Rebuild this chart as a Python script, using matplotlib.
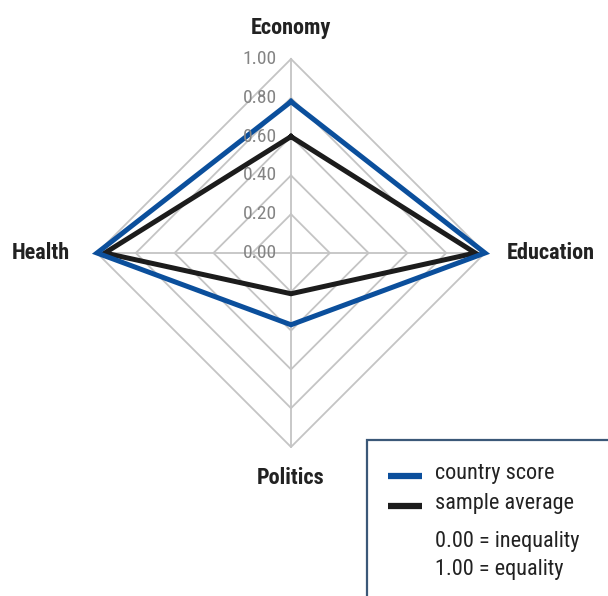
import numpy as np
import matplotlib
matplotlib.use("Agg")
import matplotlib.pyplot as plt
from matplotlib.transforms import offset_copy
from matplotlib.patches import Rectangle
from matplotlib.lines import Line2D

categories = ["Economy", "Education", "Politics", "Health"]
country_score = [0.78, 1.00, 0.37, 1.00]
sample_average = [0.60, 0.95, 0.21, 0.96]
tick_values = [0.0, 0.2, 0.4, 0.6, 0.8, 1.0]
tick_labels = ["0.00", "0.20", "0.40", "0.60", "0.80", "1.00"]
legend_labels = ["country score", "sample average"]
note_lines = ["0.00 = inequality", "1.00 = equality"]

narrow = ["Roboto Condensed", "Archivo Narrow", "Liberation Sans Narrow", "Liberation Sans", "DejaVu Sans"]
plt.rcParams["font.family"] = narrow

fig = plt.figure(figsize=(6.08, 5.96), dpi=100)
ax = fig.add_axes([97/608, 1-447/596, 388/608, 388/596], projection="polar")
ax.set_theta_zero_location("N")
ax.set_theta_direction(-1)
ax.set_ylim(0, 1)
ax.grid(False)
ax.spines["polar"].set_visible(False)
ax.set_xticks([])
ax.set_yticks([])
ax.patch.set_alpha(0)

n = len(categories)
angles = np.linspace(0, 2*np.pi, n, endpoint=False)
closed = np.concatenate([angles, angles[:1]])

grid_col = "#c4c4c4"
for r in tick_values[1:]:
    ax.plot(closed, [r]*(n+1), color=grid_col, lw=1.3, zorder=1, clip_on=False)
for a in angles:
    ax.plot([a, a], [0, 1], color=grid_col, lw=1.3, zorder=1, clip_on=False)

ax.plot(closed, sample_average + sample_average[:1], color="#1c1c1c", lw=3.6,
        zorder=3, clip_on=False, solid_joinstyle="miter")
ax.plot(closed, country_score + country_score[:1], color="#0b4f9c", lw=3.6,
        zorder=4, clip_on=False, solid_joinstyle="miter")

tt = offset_copy(ax.transData, fig=fig, x=-14, y=0, units="dots")
for v, lab in zip(tick_values, tick_labels):
    ax.text(0, v, lab, transform=tt, ha="right", va="center", fontsize=14,
            fontweight="normal", color="#848484", zorder=5)

lab_kw = dict(fontsize=16, fontweight="bold", color="#222222")
offsets = [(0, 31), (22, 0), (0, -31), (-27, 0)]
aligns = [("center", "center"), ("left", "center"), ("center", "center"), ("right", "center")]
for a, cat, (dx, dy), (ha, va) in zip(angles, categories, offsets, aligns):
    tr = offset_copy(ax.transData, fig=fig, x=dx, y=dy, units="dots")
    ax.text(a, 1.0, cat, transform=tr, ha=ha, va=va, **lab_kw)

# legend box
box = Rectangle((367/608, -0.01), 0.5, 1-440/596+0.01, transform=fig.transFigure,
                fill=False, edgecolor="#3b5878", lw=1.6, clip_on=False)
fig.add_artist(box)
colors = ["#0b4f9c", "#1c1c1c"]
ys = [476, 506]
for c, y, lab in zip(colors, ys, legend_labels):
    fig.add_artist(Line2D([388/608, 422/608], [1-y/596]*2, transform=fig.transFigure,
                          color=c, lw=4.5, solid_capstyle="butt"))
    fig.text(435/608, 1-(y-3)/596, lab, ha="left", va="center", fontsize=16, color="#222222")
for y, lab in zip([542, 569], note_lines):
    fig.text(435/608, 1-y/596, lab, ha="left", va="center", fontsize=16, color="#222222")

fig.savefig("out.png", dpi=100)
